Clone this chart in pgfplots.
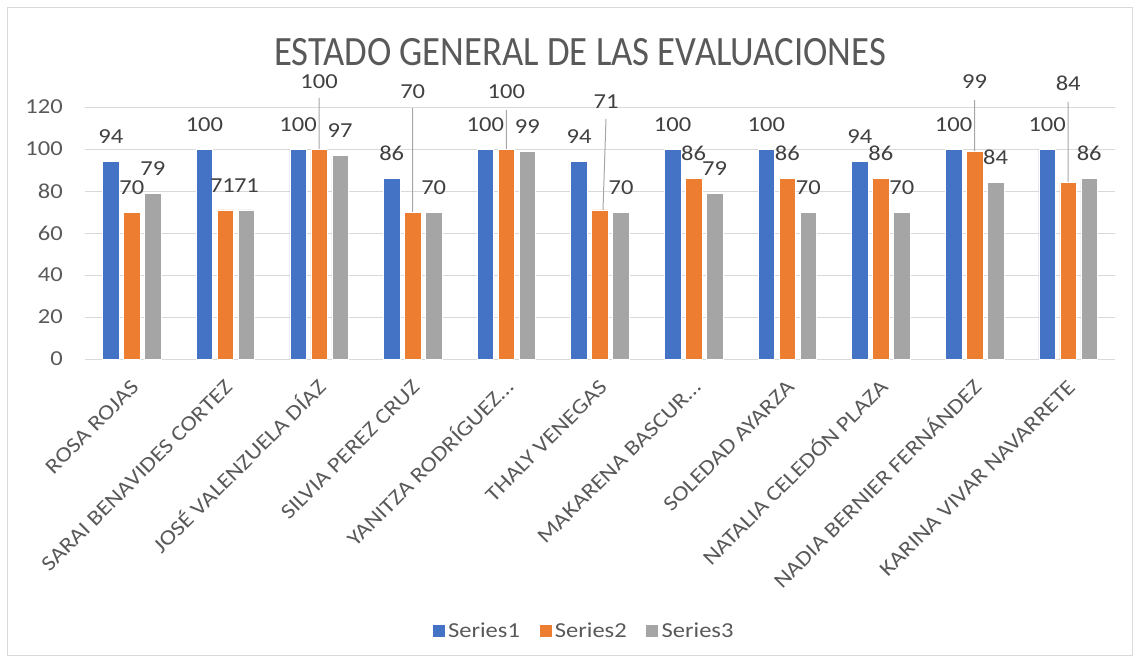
\documentclass[border=0pt]{standalone}
\usepackage{pgfplots}
\pgfplotsset{compat=1.18}
\usepackage{pgfplotstable}
\usepackage{fontspec}
\setmainfont[FakeStretch=1.15]{Carlito}
\newfontfamily\titlefont[FakeStretch=0.88]{Carlito}
\definecolor{s1}{HTML}{4472C4}
\definecolor{s2}{HTML}{ED7D31}
\definecolor{s3}{HTML}{A5A5A5}
\definecolor{gridc}{HTML}{D9D9D9}
\definecolor{txt}{HTML}{595959}
\definecolor{lab}{HTML}{404040}
\definecolor{leader}{HTML}{A6A6A6}
\tikzset{lbl/.style={font=\fontsize{16}{19}\selectfont, text=lab, inner sep=0pt, anchor=south}}
\pgfplotsset{sqleg/.style={legend image code/.code={\fill[##1] (0pt,-4.875pt) rectangle (9.75pt,4.875pt);}}}

\pgfplotstableread{
x s1 s3
0 94 79
1 100 71
2 100 97
3 86 70
4 100 99
5 94 70
6 100 79
7 100 70
8 94 70
9 100 84
10 100 86
}\tabA

\pgfplotstableread{
x y dx dy
0 70 0 24
1 71 -3 24
2 100 0 67
3 70 0 120
4 100 0 57
5 71 6 108
6 86 0 24
7 86 0 24
8 86 0 24
9 99 0 69
10 84 0 98
}\tabB

\begin{document}
\begin{tikzpicture}
\path[use as bounding box] (0,0) rectangle (855pt,496.5pt);
\draw[gridc, line width=0.75pt] (5.625pt,4.875pt) rectangle (849.375pt,490.875pt);
\begin{axis}[
  at={(63.75pt,227.25pt)}, anchor=south west,
  scale only axis, width=772.5pt, height=189pt,
  xmin=-0.5, xmax=10.5, ymin=0, ymax=120,
  ytick={0,20,...,120},
  xtick={0,...,10},
  xticklabels={{ROSA ROJAS},{SARAI BENAVIDES CORTEZ},{JOSÉ VALENZUELA DÍAZ},{SILVIA PEREZ CRUZ},{YANITZA RODRÍGUEZ…},{THALY VENEGAS},{MAKARENA BASCUR…},{SOLEDAD AYARZA},{NATALIA CELEDÓN PLAZA},{NADIA BERNIER FERNÁNDEZ},{KARINA VIVAR NAVARRETE}},
  axis line style={draw=none},
  major tick length=0pt,
  ymajorgrids, grid style={gridc, line width=0.75pt},
  clip=false,
  tick label style={font=\fontsize{16}{19}\selectfont, text=txt},
  /pgf/number format/assume math mode=true,
  yticklabel style={inner sep=0pt, xshift=-16.5pt},
  xticklabel style={xshift=1.5pt, yshift=-17.5pt, rotate=45, anchor=north east, inner sep=0pt, text height=0.65em, text depth=0pt},
  title={ESTADO GENERAL DE LAS EVALUACIONES},
  title style={at={(0.4806,1.185)}, anchor=center, font=\titlefont\fontsize{31.3}{36}\selectfont, text=txt},
  legend style={at={(0.4845,-1.079)}, anchor=center, legend columns=-1, draw=none, fill=none,
    font=\fontsize{16}{19}\selectfont, text=txt,
    /tikz/every even column/.append style={column sep=12pt}},
]
\addplot[leader, line width=0.75pt, unbounded coords=jump, forget plot] coordinates {
  (2,100) (2,124.3) (nan,nan)
  (3,70) (3,119.5) (nan,nan)
  (4,100) (4,118.6) (nan,nan)
  (5.032,71) (5.064,114.3) (nan,nan)
  (9,99) (9,123.3) (nan,nan)
  (10,84) (10,122.4)
};
\addplot[ybar, bar width=12.4pt, bar shift=-15.75pt, fill=s1, draw=white, line width=0.4pt,
  nodes near coords, nodes near coords style={lbl, xshift=-15.75pt, yshift=13.125pt}, sqleg]
  table[x=x, y=s1]{\tabA};
\addlegendentry{Series1}
\addplot[ybar, bar width=12.4pt, bar shift=0pt, fill=s2, draw=white, line width=0.4pt,
  visualization depends on={\thisrow{dx} \as \labdx},
  visualization depends on={\thisrow{dy} \as \labdy},
  nodes near coords, nodes near coords style={lbl, xshift=0.75pt*\labdx, yshift=0.75pt*\labdy-4.875pt}, sqleg]
  table[x=x, y=y]{\tabB};
\addlegendentry{Series2}
\addplot[ybar, bar width=12.4pt, bar shift=15.75pt, fill=s3, draw=white, line width=0.4pt,
  nodes near coords, nodes near coords style={lbl, xshift=15.75pt, yshift=13.125pt}, sqleg]
  table[x=x, y=s3]{\tabA};
\addlegendentry{Series3}
\end{axis}
\end{tikzpicture}
\end{document}
